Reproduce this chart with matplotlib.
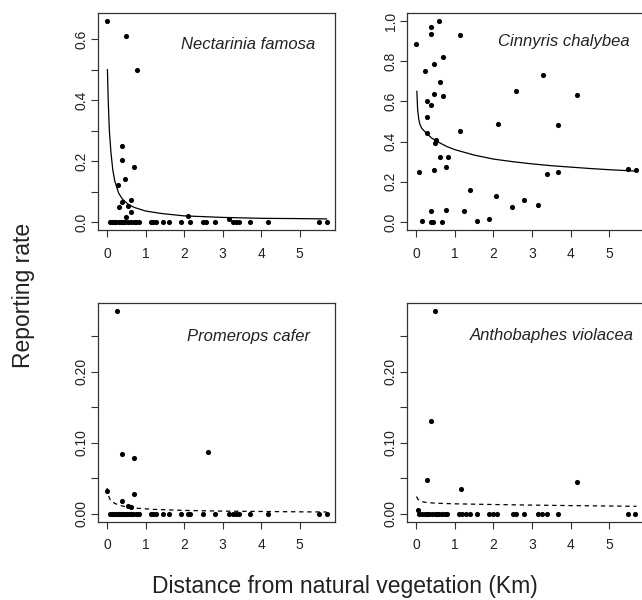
import matplotlib
matplotlib.use('Agg')
import matplotlib.pyplot as plt

plt.rcParams['font.family'] = ['Liberation Sans', 'DejaVu Sans']

# distance (km) and reporting rate, per species
# Nectarinia famosa
nf_x = [0.01, 0.50, 0.79, 0.39, 0.39, 0.69, 0.47, 0.29, 0.63, 0.39, 0.30, 0.54,
        0.63, 0.50, 2.09, 3.17]
nf_y = [0.66, 0.61, 0.50, 0.25, 0.203, 0.18, 0.14, 0.12, 0.072, 0.067, 0.048, 0.051,
        0.032, 0.015, 0.019, 0.011]
nf_zero_x = [0.07, 0.13, 0.18, 0.24, 0.30, 0.36, 0.42, 0.47, 0.55, 0.61, 0.69, 0.76,
             0.83, 1.13, 1.20, 1.28, 1.46, 1.60, 1.91, 2.15, 2.49, 2.58, 2.80, 3.27,
             3.34, 3.42, 3.71, 4.18, 5.51, 5.70]
nf_fit_x = [0.01, 0.03, 0.06, 0.1, 0.15, 0.2, 0.3, 0.4, 0.55, 0.7, 1.0, 1.4, 2.0,
            3.0, 4.0, 5.0, 5.7]
nf_fit_y = [0.50, 0.40, 0.30, 0.23, 0.17, 0.135, 0.095, 0.075, 0.058, 0.048, 0.036,
            0.028, 0.020, 0.015, 0.012, 0.011, 0.010]

# Cinnyris chalybea
cc_x = [0.01, 0.07, 0.15, 0.24, 0.28, 0.28, 0.28, 0.39, 0.39, 0.39, 0.39, 0.39,
        0.44, 0.47, 0.47, 0.47, 0.49, 0.52, 0.58, 0.63, 0.63, 0.67, 0.69, 0.69,
        0.78, 0.78, 0.83, 1.14, 1.13, 1.25, 1.39, 1.58, 1.89, 2.07, 2.12, 2.48,
        2.59, 2.79, 3.14, 3.28, 3.38, 3.68, 3.68, 4.16, 5.49, 5.68]
cc_y = [0.886, 0.251, 0.005, 0.751, 0.60, 0.523, 0.444, 0.584, 0.969, 0.936, 0.056, 0.0,
        0.0, 0.784, 0.639, 0.259, 0.394, 0.407, 1.0, 0.696, 0.322, 0.0, 0.82, 0.625,
        0.276, 0.059, 0.322, 0.932, 0.454, 0.056, 0.158, 0.005, 0.015, 0.13, 0.487, 0.073,
        0.652, 0.109, 0.083, 0.733, 0.238, 0.248, 0.482, 0.63, 0.262, 0.257]
cc_fit_x = [0.02, 0.04, 0.07, 0.1, 0.15, 0.25, 0.4, 0.6, 0.8, 1.0, 1.5, 2.0, 2.5,
            3.0, 3.5, 4.0, 4.5, 5.0, 5.7]
cc_fit_y = [0.65, 0.56, 0.51, 0.485, 0.465, 0.445, 0.418, 0.395, 0.375, 0.36, 0.333,
            0.313, 0.30, 0.289, 0.28, 0.273, 0.266, 0.26, 0.253]

# Promerops cafer
pc_x = [0.26, 0.39, 0.69, 2.61, 0.01, 0.39, 0.69, 0.54, 0.62]
pc_y = [0.285, 0.084, 0.078, 0.087, 0.032, 0.018, 0.027, 0.011, 0.009]
pc_zero_x = [0.07, 0.13, 0.18, 0.24, 0.28, 0.31, 0.36, 0.42, 0.45, 0.48, 0.52, 0.58,
             0.63, 0.67, 0.76, 0.80, 0.83, 1.13, 1.20, 1.28, 1.46, 1.60, 1.91, 2.09,
             2.15, 2.49, 2.80, 3.17, 3.27, 3.34, 3.42, 3.71, 4.18, 5.51, 5.70]
pc_fit_x = [0.0, 0.03, 0.06, 0.1, 0.2, 0.3, 0.5, 0.8, 1.2, 2.0, 3.0, 4.0, 5.0, 5.7]
pc_fit_y = [0.036, 0.027, 0.022, 0.018, 0.0145, 0.012, 0.0095, 0.0075, 0.006, 0.0045,
            0.0035, 0.003, 0.0025, 0.0023]

# Anthobaphes violacea
av_x = [0.50, 0.39, 0.28, 1.15, 4.15, 0.05]
av_y = [0.285, 0.131, 0.048, 0.035, 0.044, 0.005]
av_zero_x = [0.07, 0.15, 0.22, 0.28, 0.34, 0.41, 0.48, 0.54, 0.60, 0.67, 0.74, 0.80,
             1.12, 1.20, 1.29, 1.40, 1.58, 1.88, 1.98, 2.09, 2.50, 2.59, 2.78, 3.15,
             3.26, 3.38, 3.68, 5.48, 5.67]
av_fit_x = [0.01, 0.05, 0.1, 0.2, 0.3, 0.5, 1.0, 2.0, 3.0, 4.0, 5.0, 5.7]
av_fit_y = [0.024, 0.020, 0.018, 0.0163, 0.0155, 0.0147, 0.0138, 0.0128, 0.012,
            0.0113, 0.0107, 0.0103]

fig = plt.figure(figsize=(6.42, 6.0), dpi=100)

W, H = 642.0, 600.0
# panel boxes in pixels: left, top, right, bottom (right column runs past the edge)
boxes = {
    'nf': (98, 13, 335, 230),
    'cc': (407, 13, 645, 230),
    'pc': (98, 303.3, 335, 521.7),
    'av': (407, 303.3, 645, 521.7),
}

def make_ax(key):
    l, t, r, b = boxes[key]
    ax = fig.add_axes([l / W, 1 - b / H, (r - l) / W, (b - t) / H])
    for s in ax.spines.values():
        s.set_color('#333333')
        s.set_linewidth(0.9)
    ax.tick_params(colors='#333333', length=5, width=0.8, labelsize=10,
                   labelcolor='#222222')
    ax.tick_params(axis='x', pad=7)
    ax.tick_params(axis='y', pad=1.5)
    ax.set_xlim(-0.235, 5.92)
    ax.set_xticks([0, 1, 2, 3, 4, 5])
    return ax

def y_labels(ax, ticks, shown, fmt):
    ax.set_yticks(ticks)
    ax.set_yticklabels([fmt.format(v) if v in shown else '' for v in ticks],
                       rotation=90, va='center')

dot = dict(linestyle='none', marker='o', markersize=3.7, color='black',
           markeredgewidth=0)

# top left
ax = make_ax('nf')
ax.plot(nf_x, nf_y, **dot)
ax.plot(nf_zero_x, [0] * len(nf_zero_x), **dot)
ax.plot(nf_fit_x, nf_fit_y, color='black', lw=0.9)
ax.set_ylim(-0.0264, 0.6864)
y_labels(ax, [0.0, 0.1, 0.2, 0.3, 0.4, 0.5, 0.6], [0.0, 0.2, 0.4, 0.6], '{:.1f}')
ax.text(0.916, 0.833, 'Nectarinia famosa', transform=ax.transAxes, ha='right',
        va='baseline', fontsize=12, style='italic', color='#222222')

# top right
ax = make_ax('cc')
ax.plot(cc_x, cc_y, **dot)
ax.plot(cc_fit_x, cc_fit_y, color='black', lw=0.9)
ax.set_ylim(-0.04, 1.04)
y_labels(ax, [0.0, 0.2, 0.4, 0.6, 0.8, 1.0], [0.0, 0.2, 0.4, 0.6, 0.8, 1.0], '{:.1f}')
ax.text(0.937, 0.848, 'Cinnyris chalybea', transform=ax.transAxes, ha='right',
        va='baseline', fontsize=12, style='italic', color='#222222')

# bottom left
ax = make_ax('pc')
ax.plot(pc_x, pc_y, **dot)
ax.plot(pc_zero_x, [0] * len(pc_zero_x), **dot)
ax.plot(pc_fit_x, pc_fit_y, color='black', lw=0.9, dashes=(3.5, 3))
ax.set_ylim(-0.0114, 0.2964)
y_labels(ax, [0.0, 0.05, 0.1, 0.15, 0.2, 0.25], [0.0, 0.1, 0.2], '{:.2f}')
ax.text(0.895, 0.827, 'Promerops cafer', transform=ax.transAxes, ha='right',
        va='baseline', fontsize=12, style='italic', color='#222222')

# bottom right
ax = make_ax('av')
ax.plot(av_x, av_y, **dot)
ax.plot(av_zero_x, [0] * len(av_zero_x), **dot)
ax.plot(av_fit_x, av_fit_y, color='black', lw=0.9, dashes=(3.5, 3))
ax.set_ylim(-0.0114, 0.2964)
y_labels(ax, [0.0, 0.05, 0.1, 0.15, 0.2, 0.25], [0.0, 0.1, 0.2], '{:.2f}')
ax.text(0.954, 0.832, 'Anthobaphes violacea', transform=ax.transAxes, ha='right',
        va='baseline', fontsize=12, style='italic', color='#222222')

fig.text(345.3 / W, 1 - 593.5 / H, 'Distance from natural vegetation (Km)',
         ha='center', va='baseline', fontsize=16.5, color='#222222')
fig.text(24 / W, 1 - 295 / H, 'Reporting rate', rotation=90, ha='center',
         va='center', fontsize=16.5, color='#222222')

fig.savefig('out.png', dpi=100)
